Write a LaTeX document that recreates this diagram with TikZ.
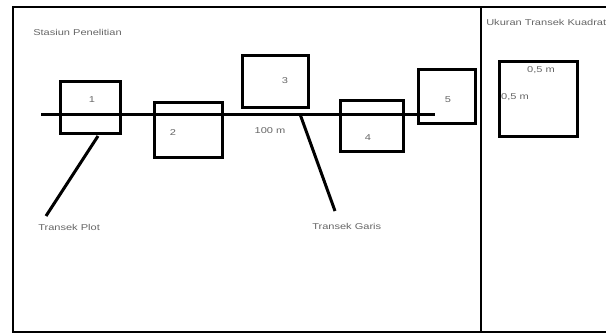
\documentclass[tikz,border=0pt]{standalone}
\usepackage{fontspec}
\setmainfont{Liberation Sans}
\begin{document}
\begin{tikzpicture}[x=1pt,y=-1pt,
  frame/.style={line width=2.6pt},
  tbox/.style={draw,line width=3pt,inner sep=0pt},
  lbl/.style={font=\fontsize{8.5}{10}\selectfont,text=black!60,inner sep=0pt,xscale=1.3},
  conn/.style={line width=3pt}]
\useasboundingbox (0,0) rectangle (606,334);
\fill[white] (0,0) rectangle (606,334);
% outer frame
\draw[frame] (606,7) -- (13,7) -- (13,332) -- (606,332);
\draw[frame] (481,7) -- (481,332);
% titles
\node[lbl,anchor=west] (t1) at (33,32) {Stasiun Penelitian};
\begin{scope}
\clip (483,9) rectangle (606,330);
\node[lbl,anchor=west] (t2) at (486,22) {Ukuran Transek Kuadrat};
\end{scope}
% main line
\coordinate (la) at (41,115);
\coordinate (lb) at (435,115);
\draw[conn] (la) -- (lb);
% boxes
\node[tbox,minimum width=60pt,minimum height=52pt] (b1) at (90,108) {};
\node[tbox,minimum width=68pt,minimum height=55pt] (b2) at (188,130.5) {};
\node[tbox,minimum width=66pt,minimum height=52pt] (b3) at (275,82) {};
\node[tbox,minimum width=63pt,minimum height=51pt] (b4) at (371.5,126.5) {};
\node[tbox,minimum width=57pt,minimum height=54pt] (b5) at (446.5,97) {};
\node[lbl] (n1) at (92,100) {1};
\node[lbl] (n2) at (173,133) {2};
\node[lbl] (n3) at (285,81) {3};
\node[lbl] (n4) at (368,138) {4};
\node[lbl] (n5) at (448,100) {5};
\node[lbl] (m100) at (270,131) {100 m};
% labels
\node[lbl,anchor=west] (tp) at (38,227) {Transek Plot};
\node[lbl,anchor=west] (tg) at (312,226) {Transek Garis};
\coordinate (p1) at (98,136);
\coordinate (p2) at (46,216);
\coordinate (g1) at (300,114);
\coordinate (g2) at (335,211);
\draw[conn] (p1) -- (p2);
\draw[conn] (g1) -- (g2);
% quadrat
\node[tbox,minimum width=78pt,minimum height=75pt] (q) at (538,99.5) {};
\node[lbl] (q1) at (541,70) {0,5 m};
\node[lbl] (q2) at (515,97) {0,5 m};
\end{tikzpicture}
\end{document}
